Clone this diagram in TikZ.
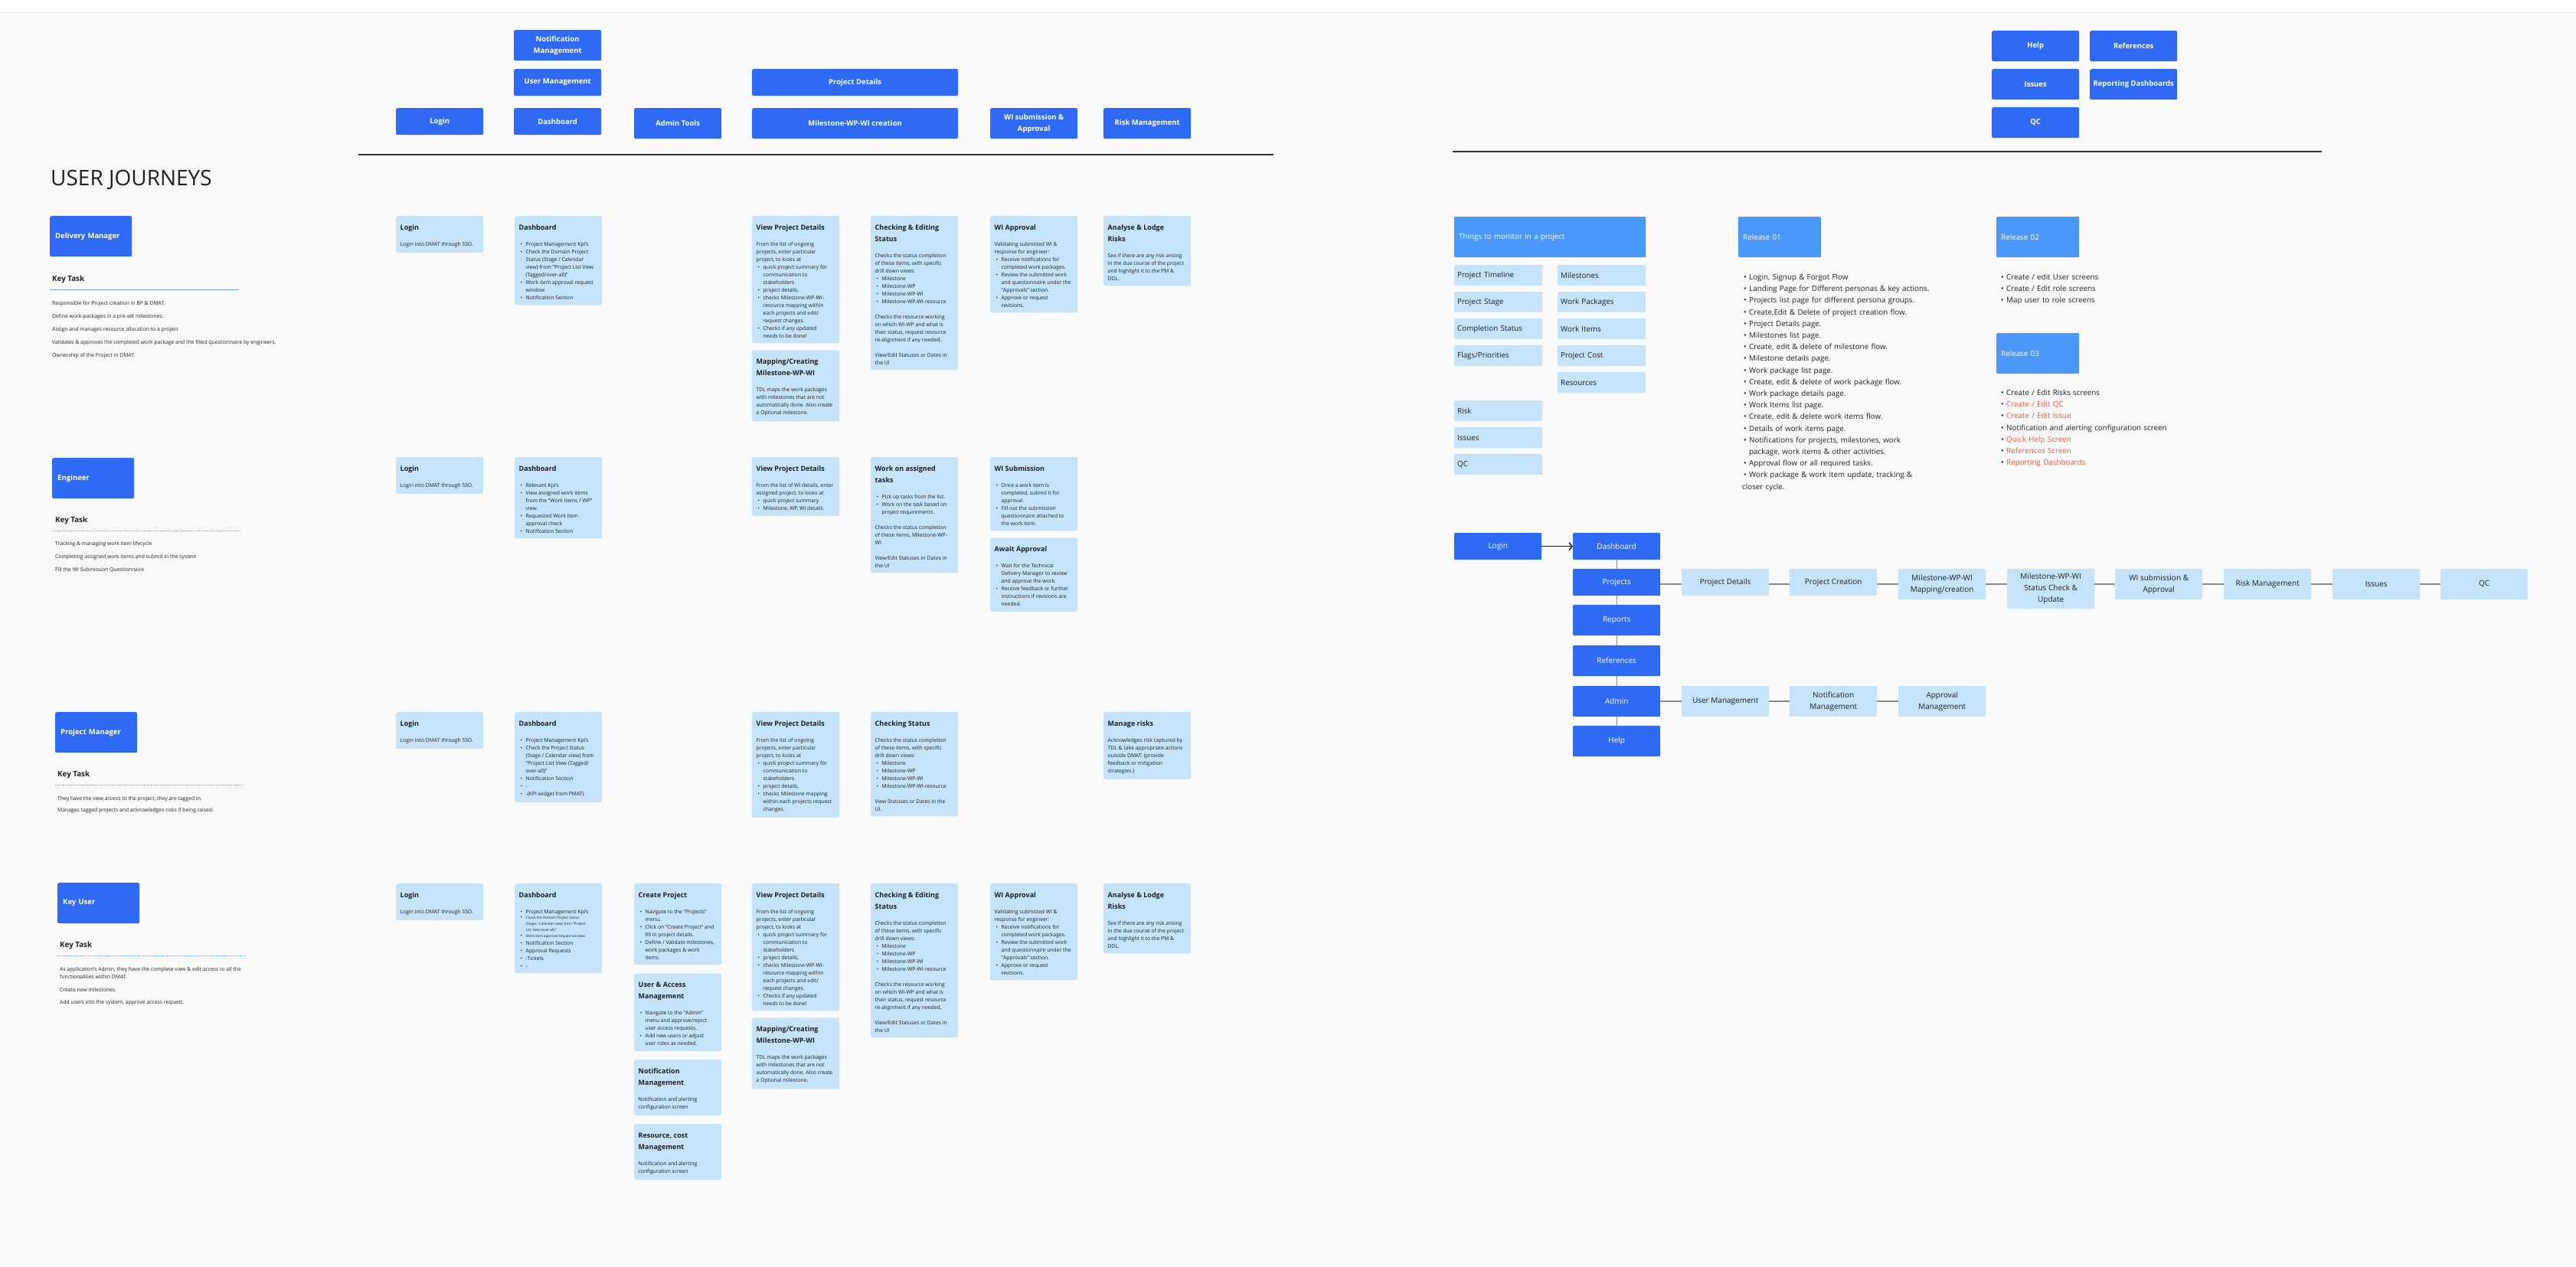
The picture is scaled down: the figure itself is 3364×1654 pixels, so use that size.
\documentclass[tikz,border=0pt]{standalone}
\usepackage{fontspec}
\setmainfont{Open Sans}
\usetikzlibrary{positioning,arrows.meta}

\definecolor{dkblue}{RGB}{47,106,245}
\definecolor{mdblue}{RGB}{76,152,248}
\definecolor{ltblue}{RGB}{197,227,251}
\definecolor{ink}{RGB}{30,32,36}
\definecolor{canvas}{RGB}{250,250,250}
\definecolor{keyblue}{RGB}{118,166,245}
\definecolor{todo}{RGB}{229,88,60}

\setlength{\parindent}{0pt}
% bullet line with hanging indent
\newcommand{\blt}{\par\hangindent=9pt\hangafter=1\makebox[9pt][l]{\hspace{2pt}\textbullet}}
\newcommand{\ctitle}[1]{{\fontsize{9}{15}\selectfont\bfseries\rule{0pt}{11pt}#1\par}\vspace{11pt}}
\newcommand{\cardtext}[1]{\makebox[103pt][l]{\parbox[t]{200pt}{\raggedright #1}}}

% card texts used in more than one row
\newcommand{\loginText}{\ctitle{Login}Login into DMAT through SSO.}
\newcommand{\viewText}{\ctitle{View Project Details}%
From the list of ongoing\\ projects, enter particular\\ project, to looks at
\blt quick project summary for\newline communication to\newline stakeholders
\blt project details,
\blt checks Milestone-WP-WI-\newline resource mapping within\newline each projects and edit/\newline request changes.
\blt Checks if any updated\newline needs to be done!}
\newcommand{\mapText}{\ctitle{Mapping/Creating\\Milestone-WP-WI}%
TDL maps the work packages\\ with milestones that are not\\ automatically done. Also create\\ a Optional milestone.}
\newcommand{\checkText}{\ctitle{Checking \& Editing\\Status}%
Checks the status completion\\ of these items, with specific\\ drill down views:
\blt Milestone
\blt Milestone-WP
\blt Milestone-WP-WI
\blt Milestone-WP-WI-resource
\par\vspace{10pt}Checks the resource working\\ on which WI-WP and what is\\ their status, request resource\\ re-alignment if any needed.
\par\vspace{10pt}View/Edit Statuses or Dates in\\ the UI}
\newcommand{\wiText}{\ctitle{WI Approval}%
Validating submitted WI \&\\ response for engineer:
\blt Receive notifications for\newline completed work packages.
\blt Review the submitted work\newline and questionnaire under the\newline "Approvals" section.
\blt Approve or request\newline revisions.}
\newcommand{\riskText}{\ctitle{Analyse \& Lodge\\Risks}%
See if there are any risk arising\\ in the due course of the project\\ and highlight it to the PM \&\\ DDL.}

\begin{document}
\begin{tikzpicture}[x=1pt, y=-1pt,
  font=\fontsize{6.8}{10}\selectfont,
  hbtn/.style={rectangle, rounded corners=2pt, fill=dkblue, text=white, anchor=north west,
               minimum width=114pt, inner sep=2pt, align=center,
               font=\fontsize{9.5}{15}\selectfont\bfseries},
  role/.style={rectangle, rounded corners=2pt, fill=dkblue, text=white, anchor=north west,
               minimum height=53pt, text width=93pt, inner xsep=7pt, align=left,
               font=\fontsize{9.5}{11}\selectfont\bfseries},
  card/.style={rectangle, rounded corners=2pt, fill=ltblue, text=ink, anchor=north west,
               inner xsep=5.5pt, inner ysep=7pt},
  mon/.style={rectangle, rounded corners=1pt, fill=ltblue, text=ink, anchor=north west,
              minimum height=27pt, text width=107pt, inner xsep=4pt, align=left,
              font=\fontsize{9.8}{12}\selectfont},
  tagbox/.style={rectangle, rounded corners=1pt, fill=mdblue, text=white, anchor=north west,
                 minimum height=53pt, inner xsep=6pt, align=left, font=\fontsize{9.8}{12}\selectfont},
  fdark/.style={rectangle, rounded corners=1pt, fill=dkblue, text=white, anchor=north west,
                minimum width=114pt, minimum height=35pt, inner sep=2pt, align=center,
                font=\fontsize{10}{15}\selectfont},
  flight/.style={fdark, fill=ltblue, text=ink},
  blist/.style={anchor=north west, inner sep=0pt, text width=300pt, align=left, text=ink,
                font=\fontsize{9.8}{15.2}\selectfont},
  ktitle/.style={anchor=base west, inner sep=0pt, text=ink, font=\fontsize{9.8}{12}\selectfont\bfseries},
  ktext/.style={anchor=base west, inner sep=0pt, text=ink, font=\fontsize{6.8}{10}\selectfont},
  keyline/.style={draw=keyblue, line width=0.9pt},
  hrule/.style={draw=black!80, line width=1.8pt},
  link/.style={draw=black!45, line width=1.3pt}
]
\fill[canvas] (0,0) rectangle (3364,1654);
\useasboundingbox (0,0) rectangle (3364,1654);
\fill[white] (0,0) rectangle (3364,17);
\draw[black!10, line width=1pt] (0,17) -- (3364,17);

% header modules
\node[hbtn, minimum height=40pt] (hNotif) at (671,39) {Notification\\Management};
\node[hbtn, minimum height=35pt] (hUser) at (671,90) {User Management};
\node[hbtn, minimum height=35pt] (hDash) at (671,141) {Dashboard};
\node[hbtn, minimum height=35pt] (hLogin) at (517,141) {Login};
\node[hbtn, minimum height=40pt] (hAdmin) at (828,141) {Admin Tools};
\node[hbtn, minimum width=269pt, minimum height=35pt] (hProj) at (982,90) {Project Details};
\node[hbtn, minimum width=269pt, minimum height=40pt] (hMile) at (982,141) {Milestone-WP-WI creation};
\node[hbtn, minimum height=40pt] (hWI) at (1293,141) {WI submission \&\\Approval};
\node[hbtn, minimum height=40pt] (hRisk) at (1441,141) {Risk Management};
\draw[hrule] (468,202) -- (1663,202);

\node[hbtn, minimum height=40pt] (hHelp) at (2601,40) {Help};
\node[hbtn, minimum height=40pt] (hRef) at (2729,40) {References};
\node[hbtn, minimum height=40pt] (hIssues) at (2601,90) {Issues};
\node[hbtn, minimum height=40pt] (hReport) at (2729,90) {Reporting Dashboards};
\node[hbtn, minimum height=40pt] (hQC) at (2601,140) {QC};
\draw[hrule] (1897,198) -- (3032,198);

\node[anchor=base west, inner sep=0pt, text=ink, font=\fontsize{28}{30}\selectfont] (title) at (66,242) {USER JOURNEYS};

% Delivery Manager
\node[role] (rDM) at (65,282) {Delivery Manager};
\node[ktitle] (kDM) at (68,367.5) {Key Task};
\draw[keyline] (65,378.5) -- (312,378.5);
\foreach \ktxt [count=\i] in {Responsible for Project creation in BP \& DMAT.,
    Define work-packages in a pre-set milestones.,
    Assign and manages resource allocation to a project,
    Validates \& approves the completed work package and the filled questionnaire by engineers.,
    Ownership of the Project in DMAT.}
  \node[ktext] (kDM\i) at (68,{398+17*(\i-1)}) {\ktxt};

\node[card] (dmLogin) at (517,282) {\cardtext{\loginText}};
\node[card] (dmDash) at (672,282) {\cardtext{\ctitle{Dashboard}%
  \blt Project Management Kpi's
  \blt Check the Domain Project\newline Status (Stage / Calendar\newline view) from "Project List View\newline (Tagged/over-all)"
  \blt Work item approval request\newline window
  \blt Notification Section}};
\node[card] (dmView) at (982,282) {\cardtext{\viewText}};
\node[card, below=9pt of dmView] (dmMap) {\cardtext{\mapText}};
\node[card] (dmCheck) at (1137,282) {\cardtext{\checkText}};
\node[card] (dmWI) at (1293,282) {\cardtext{\wiText}};
\node[card] (dmRisk) at (1441,282) {\cardtext{\riskText}};

% Engineer
\node[role] (rEng) at (68,598) {Engineer};
\node[ktitle] (kEng) at (72,682.5) {Key Task};
\draw[keyline, densely dotted] (68,693) -- (315,693);
\foreach \ktxt [count=\i] in {Tracking \& managing work item lifecycle,
    Completing assigned work items and submit in the system,
    Fill the WI Submission Questionnaire}
  \node[ktext] (kEng\i) at (72,{712.5+17*(\i-1)}) {\ktxt};

\node[card] (enLogin) at (517,597) {\cardtext{\loginText}};
\node[card] (enDash) at (672,597) {\cardtext{\ctitle{Dashboard}%
  \blt Relevant Kpi's
  \blt View assigned work items\newline from the "Work Items / WP"\newline view.
  \blt Requested Work item\newline approval check
  \blt Notification Section}};
\node[card] (enView) at (982,597) {\cardtext{\ctitle{View Project Details}%
  From the list of WI details, enter\\ assigned project, to looks at
  \blt quick project summary
  \blt Milestone, WP, WI details}};
\node[card] (enWork) at (1137,597) {\cardtext{\ctitle{Work on assigned\\tasks}%
  \blt Pick up tasks from the list.
  \blt Work on the task based on\newline project requirements.
  \par\vspace{10pt}Checks the status completion\\ of these items, Milestone-WP-\\ WI
  \par\vspace{10pt}View/Edit Statuses or Dates in\\ the UI}};
\node[card] (enSub) at (1293,597) {\cardtext{\ctitle{WI Submission}%
  \blt Once a work item is\newline completed, submit it for\newline approval.
  \blt Fill out the submission\newline questionnaire attached to\newline the work item.}};
\node[card, below=9pt of enSub] (enAwait) {\cardtext{\ctitle{Await Approval}%
  \blt Wait for the Technical\newline Delivery Manager to review\newline and approve the work.
  \blt Receive feedback or further\newline instructions if revisions are\newline needed.}};

% Project Manager
\node[role] (rPM) at (72,930) {Project Manager};
\node[ktitle] (kPM) at (75,1014.5) {Key Task};
\draw[keyline, densely dotted] (72,1025) -- (318,1025);
\foreach \ktxt [count=\i] in {{They have the view access to the project, they are tagged in.},
    Manages tagged projects and acknowledges risks if being raised.}
  \node[ktext] (kPM\i) at (75,{1045.5+15*(\i-1)}) {\ktxt};

\node[card] (pmLogin) at (517,930) {\cardtext{\loginText}};
\node[card] (pmDash) at (672,930) {\cardtext{\ctitle{Dashboard}%
  \blt Project Management Kpi's
  \blt Check the Project Status\newline (Stage / Calendar view) from\newline "Project List View (Tagged/\newline over-all)"
  \blt Notification Section
  \blt -
  \blt -(KPI widget from PMAT)}};
\node[card] (pmView) at (982,930) {\cardtext{\ctitle{View Project Details}%
  From the list of ongoing\\ projects, enter particular\\ project, to looks at
  \blt quick project summary for\newline communication to\newline stakeholders
  \blt project details,
  \blt checks Milestone mapping\newline within each projects request\newline changes.}};
\node[card] (pmCheck) at (1137,930) {\cardtext{\ctitle{Checking Status}%
  Checks the status completion\\ of these items, with specific\\ drill down views:
  \blt Milestone
  \blt Milestone-WP
  \blt Milestone-WP-WI
  \blt Milestone-WP-WI-resource
  \par\vspace{10pt}View Statuses or Dates in the\\ UI.}};
\node[card] (pmRisk) at (1441,930) {\cardtext{\ctitle{Manage risks}%
  Acknowledges risk captured by\\ TDL \& take appropriate actions\\ outside DMAT. (provide\\ feedback or mitigation\\ strategies.)}};

% Key User
\node[role] (rKU) at (75,1153) {Key User};
\node[ktitle] (kKU) at (78,1237.5) {Key Task};
\draw[keyline, densely dotted] (75,1248) -- (322,1248);
\node[ktext] (kKU1) at (78,1268.5) {As application's Admin, they have the complete view \& edit access to all the};
\node[ktext] (kKU2) at (78,1278.5) {functionalities within DMAT.};
\node[ktext] (kKU3) at (78,1295.5) {Create new milestones.};
\node[ktext] (kKU4) at (78,1311.5) {Add users into the system, approve access request.};

\node[card] (kuLogin) at (517,1154) {\cardtext{\loginText}};
\node[card] (kuDash) at (672,1154) {\cardtext{\ctitle{Dashboard}%
  \blt Project Management Kpi's
  \blt{\fontsize{4.6}{7.7}\selectfont Check the Domain Project Status\newline (Stage / Calendar view) from "Project\newline List View (over-all)"\par}
  \blt{\fontsize{4.6}{7.7}\selectfont Work item approval request window\par}
  \blt Notification Section
  \blt Approval Requests
  \blt -Tickets
  \blt -}};
\node[card] (kuCreate) at (828,1154) {\cardtext{\ctitle{Create Project}%
  \blt Navigate to the "Projects"\newline menu.
  \blt Click on "Create Project" and\newline fill in project details.
  \blt Define / Validate milestones,\newline work packages \& work\newline items.}};
\node[card, below=11pt of kuCreate] (kuUser) {\cardtext{\ctitle{User \& Access\\Management}%
  \blt Navigate to the "Admin"\newline menu and approve/reject\newline user access requests.
  \blt Add new users or adjust\newline user roles as needed.}};
\node[card, below=11pt of kuUser] (kuNotif) {\cardtext{\ctitle{Notification\\Management}%
  Notification and alerting\\ configuration screen}};
\node[card, below=11pt of kuNotif] (kuRes) {\cardtext{\ctitle{Resource, cost\\Management}%
  Notification and alerting\\ configuration screen}};
\node[card] (kuView) at (982,1154) {\cardtext{\viewText}};
\node[card, below=9pt of kuView] (kuMap) {\cardtext{\mapText}};
\node[card] (kuCheck) at (1137,1154) {\cardtext{\checkText}};
\node[card] (kuWI) at (1293,1154) {\cardtext{\wiText}};
\node[card] (kuRisk) at (1441,1154) {\cardtext{\riskText}};

% things to monitor
\node[tagbox, text width=238pt] (mHead) at (1899,283) {Things to monitor in a project};
\foreach \ktxt/\x/\y [count=\i] in {Project Timeline/1899/346, Project Stage/1899/381,
    Completion Status/1899/416, {Flags/Priorities}/1899/451, Milestones/2034/346,
    Work Packages/2034/381, Work Items/2034/416, Project Cost/2034/451,
    Resources/2034/486, Risk/1899/523, Issues/1899/558, QC/1899/593}
  \node[mon] (mon\i) at (\x,\y) {\ktxt};

% releases
\node[tagbox, text width=96pt] (rel1) at (2270,283) {Release 01};
\node[tagbox, text width=96pt] (rel2) at (2607,283) {Release 02};
\node[tagbox, text width=96pt] (rel3) at (2607,435) {Release 03};
\node[blist] (rel1List) at (2275,350) {%
  \blt Login, Signup \& Forgot Flow
  \blt Landing Page for Different personas \& key actions.
  \blt Projects list page for different persona groups.
  \blt Create,Edit \& Delete of project creation flow.
  \blt Project Details page.
  \blt Milestones list page.
  \blt Create, edit \& delete of milestone flow.
  \blt Milestone details page.
  \blt Work package list page.
  \blt Create, edit \& delete of work package flow.
  \blt Work package details page.
  \blt Work Items list page.
  \blt Create, edit \& delete work items flow.
  \blt Details of work items page.
  \blt Notifications for projects, milestones, work\newline package, work items \& other activities.
  \blt Approval flow or all required tasks.
  \blt Work package \& work item update, tracking \&\newline closer cycle.};
\node[blist] (rel2List) at (2611,350) {%
  \blt Create / edit User screens
  \blt Create / Edit role screens
  \blt Map user to role screens};
\node[blist] (rel3List) at (2611,501) {%
  \blt Create / Edit Risks screens
  \blt \textcolor{todo}{Create / Edit QC}
  \blt \textcolor{todo}{Create / Edit Issue}
  \blt Notification and alerting configuration screen
  \blt \textcolor{todo}{Quick Help Screen}
  \blt \textcolor{todo}{References Screen}
  \blt \textcolor{todo}{Reporting Dashboards}};

% navigation flow
\node[fdark] (fLogin) at (1899,696) {Login};
\node[fdark] (fDash) at (2054,696) {Dashboard};
\node[fdark] (fProj) at (2054,743) {Projects};
\node[fdark, minimum height=40pt] (fReports) at (2054,790) {Reports};
\node[fdark, minimum height=40pt] (fRefs) at (2054,843) {References};
\node[fdark, minimum height=40pt] (fAdmin) at (2054,896) {Admin};
\node[fdark, minimum height=40pt] (fHelp) at (2054,948) {Help};

\node[flight] (fPD) at (2196,743) {Project Details};
\node[flight] (fPC) at (2337,743) {Project Creation};
\node[flight, minimum height=40pt] (fMM) at (2479,743) {Milestone-WP-WI\\Mapping/creation};
\node[flight, minimum height=52pt] (fMS) at (2621,743) {Milestone-WP-WI\\Status Check \&\\Update};
\node[flight, minimum height=40pt] (fWIS) at (2762,743) {WI submission \&\\Approval};
\node[flight, minimum height=40pt] (fRM) at (2904,743) {Risk Management};
\node[flight, minimum height=40pt] (fIss) at (3046,743) {Issues};
\node[flight, minimum height=40pt] (fQC) at (3187,743) {QC};
\node[flight, minimum height=40pt] (fUM) at (2196,896) {User Management};
\node[flight, minimum height=40pt] (fNM) at (2337,896) {Notification\\Management};
\node[flight, minimum height=40pt] (fAM) at (2479,896) {Approval\\Management};

\draw[-{Straight Barb[length=4pt,width=10pt]}, line width=1.5pt, draw=ink] (fLogin) -- (fDash);
\draw[link] (fDash) -- (fProj);
\draw[link] (fProj) -- (fReports);
\draw[link] (fReports) -- (fRefs);
\draw[link] (fRefs) -- (fAdmin);
\draw[link] (fAdmin) -- (fHelp);
\foreach \a/\b in {fProj/fPD, fPD/fPC, fPC/fMM, fMM/fMS, fMS/fWIS, fWIS/fRM, fRM/fIss,
    fIss/fQC, fAdmin/fUM, fUM/fNM, fNM/fAM}
  \draw[link] ([yshift=-20pt]\a.north east) -- ([yshift=-20pt]\b.north west);
\end{tikzpicture}
\end{document}
